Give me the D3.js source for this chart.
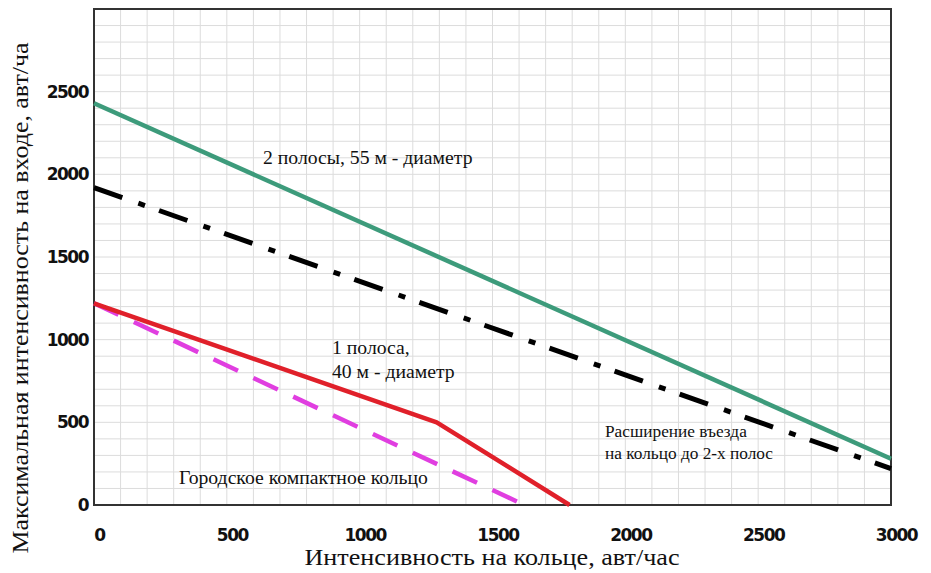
<!DOCTYPE html>
<html>
<head>
<meta charset="utf-8">
<script src="https://cdn.jsdelivr.net/npm/d3@7"></script>
<style>
  body { margin: 0; background: #fff; }
  svg { display: block; }
</style>
</head>
<body>
<div id="chart"></div>
<script>
// tick labels
const xTicks = [0, 500, 1000, 1500, 2000, 2500, 3000];
const yTicks = [0, 500, 1000, 1500, 2000, 2500];

// series (intensity on ring -> max entry intensity)
const twoLaneX = [0, 3000];
const twoLaneY = [2430, 280];
const widenX = [0, 3000];
const widenY = [1920, 220];
const oneLaneX = [0, 1290, 1790];
const oneLaneY = [1220, 500, 0];
const compactX = [0, 1620];
const compactY = [1220, 0];

const width = 931, height = 573;
const plotLeft = 94, plotRight = 891, plotTop = 9, plotBottom = 505;

const svg = d3.select("#chart").append("svg")
  .attr("width", width)
  .attr("height", height);

const x = d3.scaleLinear().domain([0, 3000]).range([plotLeft, plotRight]);
const y = d3.scaleLinear().domain([0, 3000]).range([plotBottom, plotTop]);

// grid every 100
svg.append("g")
  .selectAll("line")
  .data(d3.range(100, 3000, 100))
  .enter().append("line")
  .attr("x1", d => x(d)).attr("x2", d => x(d))
  .attr("y1", plotTop).attr("y2", plotBottom)
  .attr("stroke", "#dcdcdc")
  .attr("stroke-width", 1);
svg.append("g")
  .selectAll("line")
  .data(d3.range(100, 3000, 100))
  .enter().append("line")
  .attr("y1", d => y(d)).attr("y2", d => y(d))
  .attr("x1", plotLeft).attr("x2", plotRight)
  .attr("stroke", "#dcdcdc")
  .attr("stroke-width", 1);

// frame
svg.append("rect")
  .attr("x", plotLeft).attr("y", plotTop)
  .attr("width", plotRight - plotLeft).attr("height", plotBottom - plotTop)
  .attr("fill", "none")
  .attr("stroke", "#333")
  .attr("stroke-width", 2);

// axes (labels only, frame drawn above)
const xAxis = svg.append("g")
  .attr("transform", "translate(5," + (plotBottom + 30) + ")")
  .call(d3.axisBottom(x).tickValues(xTicks).tickSize(0).tickFormat(d3.format("d")));
xAxis.select(".domain").remove();
xAxis.selectAll("text")
  .attr("dy", "0.35em")
  .attr("y", 0);

const yAxis = svg.append("g")
  .attr("transform", "translate(" + (plotLeft - 6) + ",0)")
  .call(d3.axisLeft(y).tickValues(yTicks).tickSize(0).tickFormat(d3.format("d")));
yAxis.select(".domain").remove();
yAxis.selectAll("text").attr("x", 0);

svg.selectAll(".tick text")
  .style("font-family", "'DejaVu Sans', sans-serif")
  .style("font-weight", "bold")
  .style("font-size", "17px")
  .style("letter-spacing", "-1.5px")
  .attr("fill", "#111");

// lines
const line = d3.line().x(d => x(d[0])).y(d => y(d[1]));
function pts(xs, ys) { return xs.map((v, i) => [v, ys[i]]); }

svg.append("path")
  .attr("d", line(pts(twoLaneX, twoLaneY)))
  .attr("fill", "none")
  .attr("stroke", "#3d9b7b")
  .attr("stroke-width", 4.5);

svg.append("path")
  .attr("d", line(pts(widenX, widenY)))
  .attr("fill", "none")
  .attr("stroke", "#000")
  .attr("stroke-width", 5)
  .attr("stroke-dasharray", "30,17,7,15");

svg.append("path")
  .attr("d", line(pts(compactX, compactY)))
  .attr("fill", "none")
  .attr("stroke", "#e03ee0")
  .attr("stroke-width", 4.5)
  .attr("stroke-dasharray", "27,17");

svg.append("path")
  .attr("d", line(pts(oneLaneX, oneLaneY)))
  .attr("fill", "none")
  .attr("stroke", "#e0202a")
  .attr("stroke-width", 4.5)
  .attr("stroke-linejoin", "round");

// annotations
const notes = [
  { t: "2 полосы, 55 м - диаметр", x: 263, y: 164 },
  { t: "1 полоса,", x: 332, y: 354 },
  { t: "40 м - диаметр", x: 332, y: 378 },
  { t: "Городское компактное кольцо", x: 179, y: 484 },
  { t: "Расширение въезда", x: 605, y: 437, s: 17.3 },
  { t: "на кольцо до 2-х полос", x: 605, y: 459, s: 17.3 }
];
svg.selectAll(".note")
  .data(notes)
  .enter().append("text")
  .attr("class", "note")
  .attr("x", d => d.x)
  .attr("y", d => d.y)
  .style("font-family", "'Liberation Serif', serif")
  .style("font-size", d => (d.s || 19.7) + "px")
  .attr("fill", "#111")
  .text(d => d.t);

// axis titles
svg.append("text")
  .attr("x", 492)
  .attr("y", 565)
  .attr("text-anchor", "middle")
  .attr("textLength", 375)
  .attr("lengthAdjust", "spacingAndGlyphs")
  .style("font-family", "'Liberation Serif', serif")
  .style("font-size", "23px")
  .attr("fill", "#111")
  .text("Интенсивность на кольце, авт/час");

svg.append("text")
  .attr("transform", "translate(28,298) rotate(-90)")
  .attr("text-anchor", "middle")
  .attr("textLength", 511)
  .attr("lengthAdjust", "spacingAndGlyphs")
  .style("font-family", "'Liberation Serif', serif")
  .style("font-size", "23px")
  .attr("fill", "#111")
  .text("Максимальная интенсивность на входе, авт/ча");
</script>
</body>
</html>
